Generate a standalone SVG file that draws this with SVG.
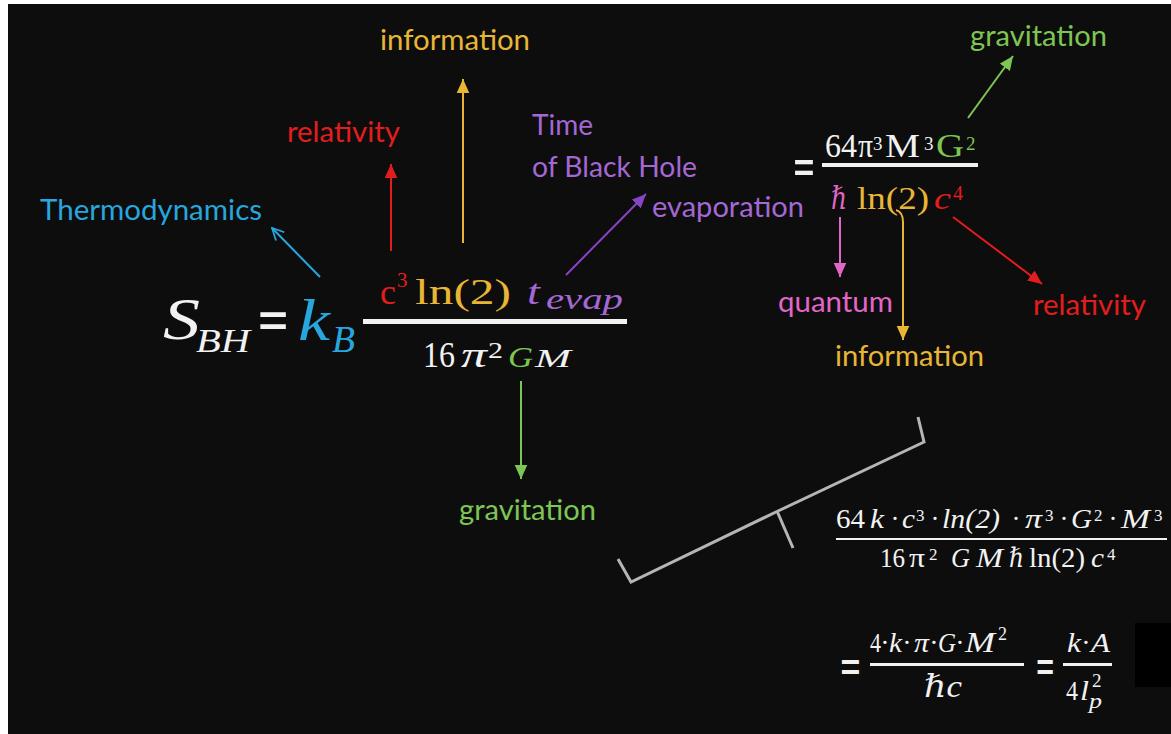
<svg xmlns="http://www.w3.org/2000/svg" width="1171" height="734" viewBox="0 0 1171 734">
<style>
.lbl{font-family:Lato,"Open Sans","Liberation Sans",sans-serif;font-size:29px}
.m{font-family:"Liberation Serif","DejaVu Serif",serif}
.i{font-style:italic}
.d{text-anchor:middle}
.eq{font-family:Lato,"Liberation Sans",sans-serif;font-size:48px;fill:#f2f2f2}
.w{fill:#f2f2f2}
.gold{fill:#e8b535}
.red{fill:#e21d1d}
.blue{fill:#28a6de}
.pur{fill:#a468d4}
.grn{fill:#7ec653}
.pink{fill:#e266c8}
.cn{fill:none;stroke-width:2}
</style>
<defs>
<marker id="ah-red" viewBox="0 0 10 10" refX="10" refY="5" markerWidth="14" markerHeight="14" markerUnits="userSpaceOnUse" orient="auto"><path d="M0,0.5 L10,5 L0,9.5z" fill="#e21d1d"/></marker>
<marker id="ah-gold" viewBox="0 0 10 10" refX="10" refY="5" markerWidth="14" markerHeight="14" markerUnits="userSpaceOnUse" orient="auto"><path d="M0,0.5 L10,5 L0,9.5z" fill="#e8b535"/></marker>
<marker id="ah-pur" viewBox="0 0 10 10" refX="10" refY="5" markerWidth="14" markerHeight="14" markerUnits="userSpaceOnUse" orient="auto"><path d="M0,0.5 L10,5 L0,9.5z" fill="#8645c4"/></marker>
<marker id="ah-grn" viewBox="0 0 10 10" refX="10" refY="5" markerWidth="14" markerHeight="14" markerUnits="userSpaceOnUse" orient="auto"><path d="M0,0.5 L10,5 L0,9.5z" fill="#7ec653"/></marker>
<marker id="ah-pink" viewBox="0 0 10 10" refX="10" refY="5" markerWidth="14" markerHeight="14" markerUnits="userSpaceOnUse" orient="auto"><path d="M0,0.5 L10,5 L0,9.5z" fill="#e266c8"/></marker>
<marker id="ah-blue" viewBox="-1 -1 12 12" refX="10" refY="5" markerWidth="14" markerHeight="14" markerUnits="userSpaceOnUse" orient="auto"><path d="M0,0 L10,5 L0,10" fill="none" stroke="#28a6de" stroke-width="1.5"/></marker>
</defs>

<rect x="0" y="0" width="1171" height="734" fill="#ffffff"/>
<rect x="8" y="4" width="1163" height="730" fill="#0d0d0d"/>
<rect x="1135" y="623" width="36" height="64" fill="#000000"/>

<g id="connectors">
<line class="cn" stroke="#28a6de" x1="320" y1="277" x2="272" y2="228" marker-end="url(#ah-blue)"/>
<line class="cn" stroke="#e21d1d" x1="391" y1="251" x2="391" y2="164" marker-end="url(#ah-red)"/>
<line class="cn" stroke="#e8b535" x1="463" y1="243" x2="463" y2="79" marker-end="url(#ah-gold)"/>
<line class="cn" stroke="#8645c4" x1="566" y1="275" x2="646" y2="194" marker-end="url(#ah-pur)"/>
<line class="cn" stroke="#7ec653" x1="521" y1="381" x2="521" y2="479" marker-end="url(#ah-grn)"/>
<line class="cn" stroke="#7ec653" x1="968" y1="118" x2="1013" y2="56" marker-end="url(#ah-grn)"/>
<line class="cn" stroke="#e266c8" x1="840" y1="217" x2="840" y2="277" marker-end="url(#ah-pink)"/>
<path class="cn" stroke="#e8b535" d="M896,210 Q903,212 903,222 L903,340" marker-end="url(#ah-gold)"/>
<line class="cn" stroke="#e21d1d" x1="953" y1="217" x2="1042" y2="284" marker-end="url(#ah-red)"/>
<g id="brace" fill="none" stroke="#b5b5b5" stroke-width="3">
<polyline points="618,559 631,582 778,511 924,442 918,417"/>
<line x1="777" y1="511" x2="793" y2="548"/>
</g>
</g>

<g id="label-information-top"><text class="lbl gold" x="380" y="50" textLength="150" lengthAdjust="spacingAndGlyphs">information</text></g>
<g id="label-relativity-left"><text class="lbl red" x="287" y="142" textLength="113" lengthAdjust="spacingAndGlyphs">relativity</text></g>
<g id="label-thermodynamics"><text class="lbl blue" x="40" y="220" textLength="222" lengthAdjust="spacingAndGlyphs">Thermodynamics</text></g>
<g id="label-time">
<text class="lbl pur" x="532" y="135" textLength="61" lengthAdjust="spacingAndGlyphs">Time</text>
<text class="lbl pur" x="532" y="177" textLength="165" lengthAdjust="spacingAndGlyphs">of Black Hole</text>
<text class="lbl pur" x="652" y="217" textLength="152" lengthAdjust="spacingAndGlyphs">evaporation</text>
</g>
<g id="label-gravitation-top"><text class="lbl grn" x="970" y="46" textLength="137" lengthAdjust="spacingAndGlyphs">gravitation</text></g>
<g id="label-quantum"><text class="lbl pink" x="778" y="312" textLength="115" lengthAdjust="spacingAndGlyphs">quantum</text></g>
<g id="label-relativity-right"><text class="lbl red" x="1033" y="315" textLength="113" lengthAdjust="spacingAndGlyphs">relativity</text></g>
<g id="label-information-right"><text class="lbl gold" x="835" y="366" textLength="149" lengthAdjust="spacingAndGlyphs">information</text></g>
<g id="label-gravitation-bottom"><text class="lbl grn" x="459" y="520" textLength="137" lengthAdjust="spacingAndGlyphs">gravitation</text></g>

<g id="formula-main">
<text class="m i w" x="163" y="339" font-size="60" textLength="37" lengthAdjust="spacingAndGlyphs">S</text>
<text class="m i w" x="196" y="352" font-size="33" textLength="54" lengthAdjust="spacingAndGlyphs">BH</text>
<text class="eq" transform="translate(256,345) scale(1.23,1.5)">=</text>
<text class="m i blue" x="298" y="340" font-size="60" textLength="32" lengthAdjust="spacingAndGlyphs">k</text>
<text class="m i blue" x="332" y="352" font-size="37" textLength="23" lengthAdjust="spacingAndGlyphs">B</text>
<rect x="363" y="319" width="264" height="5" fill="#f2f2f2"/>
<text class="m red" x="380" y="304" font-size="35" textLength="16" lengthAdjust="spacingAndGlyphs">c</text>
<text class="m red" x="397" y="287" font-size="21">3</text>
<text class="m gold" x="415" y="304" font-size="35" textLength="96" lengthAdjust="spacingAndGlyphs">ln(2)</text>
<text class="m i pur" x="527" y="304" font-size="36" textLength="13" lengthAdjust="spacingAndGlyphs">t</text>
<text class="m i pur" x="546" y="309" font-size="29" textLength="77" lengthAdjust="spacingAndGlyphs">evap</text>
<text class="m w" x="423" y="367" font-size="36" textLength="32" lengthAdjust="spacingAndGlyphs">16</text>
<text class="m i w" x="461" y="367" font-size="36" textLength="26" lengthAdjust="spacingAndGlyphs">π</text>
<text class="m w" x="488" y="358" font-size="24" textLength="15" lengthAdjust="spacingAndGlyphs">2</text>
<text class="m i grn" x="508" y="367" font-size="30" textLength="25" lengthAdjust="spacingAndGlyphs">G</text>
<text class="m i w" x="535" y="367" font-size="26" textLength="36" lengthAdjust="spacingAndGlyphs">M</text>
</g>

<g id="formula-top-right">
<text class="eq" transform="translate(792,189) scale(0.86,1.3)">=</text>
<text class="m w" x="825" y="157" font-size="33" textLength="32" lengthAdjust="spacingAndGlyphs">64</text>
<text class="m w" x="858" y="157" font-size="33" textLength="15" lengthAdjust="spacingAndGlyphs">π</text>
<text class="m w" x="873" y="150" font-size="19">3</text>
<text class="m w" x="885" y="157" font-size="33" textLength="35" lengthAdjust="spacingAndGlyphs">M</text>
<text class="m w" x="924" y="150" font-size="19">3</text>
<text class="m grn" x="936" y="157" font-size="33" textLength="28" lengthAdjust="spacingAndGlyphs">G</text>
<text class="m grn" x="966" y="150" font-size="19">2</text>
<rect x="822" y="163" width="156" height="4" fill="#f2f2f2"/>
<text class="m i pink" x="831" y="209" font-size="32" textLength="16" lengthAdjust="spacingAndGlyphs">ℏ</text>
<text class="m gold" x="857" y="209" font-size="32" textLength="72" lengthAdjust="spacingAndGlyphs">ln(2)</text>
<text class="m i red" x="934" y="209" font-size="32" textLength="17" lengthAdjust="spacingAndGlyphs">c</text>
<text class="m red" x="953" y="200" font-size="20">4</text>
</g>

<g id="formula-expanded" class="w">
<text class="m" x="836" y="528" font-size="27" textLength="29" lengthAdjust="spacingAndGlyphs">64</text>
<text class="m i" x="870" y="528" font-size="27" textLength="14" lengthAdjust="spacingAndGlyphs">k</text>
<text class="m d" x="895" y="528" font-size="27">·</text>
<text class="m i" x="902" y="528" font-size="27" textLength="13" lengthAdjust="spacingAndGlyphs">c</text>
<text class="m" x="916" y="521" font-size="17">3</text>
<text class="m d" x="935" y="528" font-size="27">·</text>
<text class="m i" x="942" y="528" font-size="27" textLength="58" lengthAdjust="spacingAndGlyphs">ln(2)</text>
<text class="m d" x="1016" y="528" font-size="27">·</text>
<text class="m i" x="1025" y="528" font-size="27" textLength="17" lengthAdjust="spacingAndGlyphs">π</text>
<text class="m" x="1045" y="521" font-size="17">3</text>
<text class="m d" x="1064" y="528" font-size="27">·</text>
<text class="m i" x="1071" y="528" font-size="27" textLength="21" lengthAdjust="spacingAndGlyphs">G</text>
<text class="m" x="1094" y="521" font-size="17">2</text>
<text class="m d" x="1113" y="528" font-size="27">·</text>
<text class="m i" x="1121" y="528" font-size="27" textLength="29" lengthAdjust="spacingAndGlyphs">M</text>
<text class="m" x="1154" y="521" font-size="17">3</text>
<rect x="836" y="538" width="331" height="2" fill="#f2f2f2"/>
<text class="m" x="880" y="567" font-size="27" textLength="25" lengthAdjust="spacingAndGlyphs">16</text>
<text class="m" x="909" y="567" font-size="27" textLength="16" lengthAdjust="spacingAndGlyphs">π</text>
<text class="m" x="929" y="560" font-size="17">2</text>
<text class="m i" x="951" y="567" font-size="27" textLength="19" lengthAdjust="spacingAndGlyphs">G</text>
<text class="m i" x="976" y="567" font-size="27" textLength="27" lengthAdjust="spacingAndGlyphs">M</text>
<text class="m i" x="1009" y="567" font-size="27" textLength="15" lengthAdjust="spacingAndGlyphs">ℏ</text>
<text class="m" x="1029" y="567" font-size="27" textLength="56" lengthAdjust="spacingAndGlyphs">ln(2)</text>
<text class="m i" x="1091" y="567" font-size="27" textLength="13" lengthAdjust="spacingAndGlyphs">c</text>
<text class="m" x="1107" y="560" font-size="17">4</text>
</g>

<g id="formula-result" class="w">
<text class="eq" transform="translate(839,687) scale(0.82,1.2)">=</text>
<text class="m" x="870" y="652" font-size="28" textLength="11" lengthAdjust="spacingAndGlyphs">4</text>
<text class="m d" x="885" y="652" font-size="28">·</text>
<text class="m i" x="889" y="652" font-size="28" textLength="13" lengthAdjust="spacingAndGlyphs">k</text>
<text class="m d" x="907" y="652" font-size="28">·</text>
<text class="m i" x="914" y="652" font-size="28" textLength="15" lengthAdjust="spacingAndGlyphs">π</text>
<text class="m d" x="934" y="652" font-size="28">·</text>
<text class="m i" x="938" y="652" font-size="28" textLength="18" lengthAdjust="spacingAndGlyphs">G</text>
<text class="m d" x="960" y="652" font-size="28">·</text>
<text class="m i" x="965" y="652" font-size="30" textLength="30" lengthAdjust="spacingAndGlyphs">M</text>
<text class="m" x="998" y="640" font-size="18">2</text>
<rect x="870" y="663" width="154" height="3" fill="#f2f2f2"/>
<text class="m i" x="924" y="697" font-size="32" textLength="38" lengthAdjust="spacingAndGlyphs">ℏc</text>
<text class="eq" transform="translate(1035,687) scale(0.73,1.2)">=</text>
<text class="m i" x="1067" y="652" font-size="28" textLength="14" lengthAdjust="spacingAndGlyphs">k</text>
<text class="m d" x="1086" y="652" font-size="28">·</text>
<text class="m i" x="1091" y="652" font-size="28" textLength="19" lengthAdjust="spacingAndGlyphs">A</text>
<rect x="1063" y="663" width="49" height="3" fill="#f2f2f2"/>
<text class="m" x="1066" y="700" font-size="28" textLength="12" lengthAdjust="spacingAndGlyphs">4</text>
<text class="m i" x="1080" y="700" font-size="28" textLength="9" lengthAdjust="spacingAndGlyphs">l</text>
<text class="m i" x="1089" y="708" font-size="21" textLength="13" lengthAdjust="spacingAndGlyphs">p</text>
<text class="m" x="1092" y="687" font-size="19">2</text>
</g>
</svg>
